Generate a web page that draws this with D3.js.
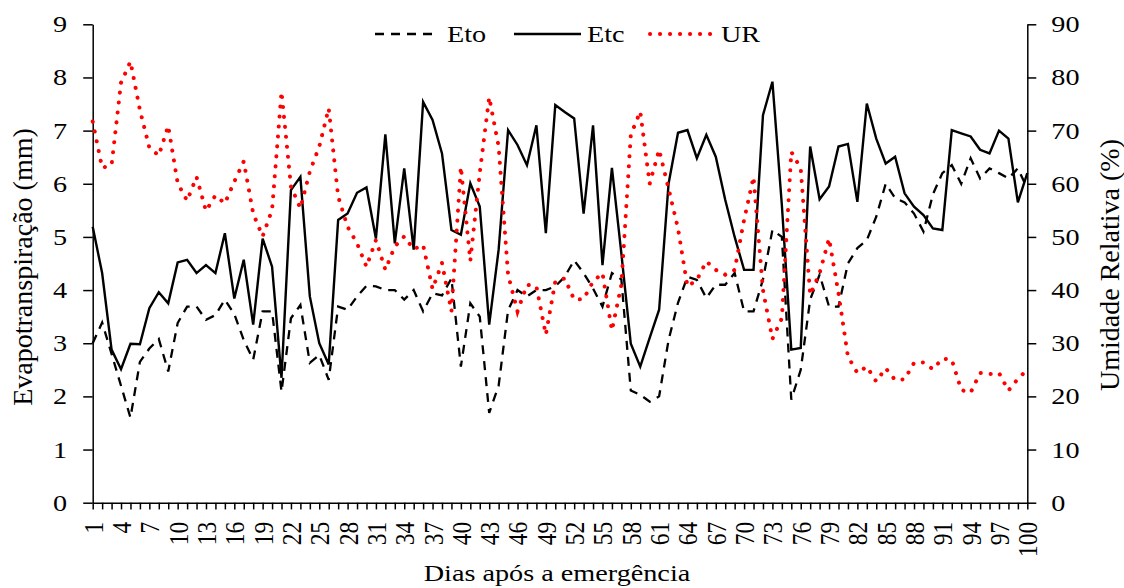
<!DOCTYPE html>
<html>
<head>
<meta charset="utf-8">
<script src="https://cdn.jsdelivr.net/npm/d3@7"></script>
<style>
    body { margin: 0; background: #fff; }
    svg text { font-family: "Liberation Serif", "Times New Roman", serif; fill: #000; }
</style>
</head>
<body>
<script>

// days after emergence
var days = d3.range(1, 101);

// reference evapotranspiration (mm)
var eto = [3.0, 3.39, 2.8, 2.2, 1.6, 2.65, 2.9, 3.08, 2.47, 3.38,
    3.69, 3.69, 3.44, 3.53, 3.82, 3.55, 3.06, 2.69, 3.6, 3.6,
    2.09, 3.47, 3.72, 2.63, 2.78, 2.31, 3.69, 3.63, 3.88, 4.08,
    4.07, 4.0, 4.0, 3.82, 4.0, 3.6, 3.94, 3.9, 4.22, 2.56,
    3.75, 3.5, 1.69, 2.2, 3.62, 4.0, 3.88, 4.0, 4.0, 4.07,
    4.25, 4.56, 4.32, 4.03, 3.69, 4.32, 4.2, 2.11, 2.03, 1.9,
    2.0, 3.06, 3.76, 4.25, 4.19, 3.85, 4.1, 4.1, 4.32, 3.6,
    3.6, 4.2, 5.13, 5.0, 1.94, 2.5, 3.82, 4.29, 3.69, 3.69,
    4.5, 4.79, 4.94, 5.38, 6.0, 5.73, 5.65, 5.44, 5.1, 5.8,
    6.2, 6.35, 6.0, 6.48, 6.1, 6.29, 6.2, 6.1, 6.29, 5.91];

// crop evapotranspiration (mm)
var etc = [5.19, 4.32, 2.88, 2.51, 2.99, 2.98, 3.66, 3.96, 3.75, 4.52,
    4.57, 4.32, 4.47, 4.32, 5.07, 3.84, 4.57, 3.35, 4.97, 4.44,
    2.35, 5.88, 6.13, 3.88, 3.0, 2.6, 5.32, 5.44, 5.83, 5.93,
    4.97, 6.93, 4.88, 6.29, 4.76, 7.54, 7.2, 6.57, 5.13, 5.04,
    6.01, 5.57, 3.35, 4.76, 7.01, 6.73, 6.35, 7.1, 5.07, 7.48,
    7.35, 7.23, 5.44, 7.1, 4.47, 6.3, 4.69, 2.99, 2.56, 3.1,
    3.63, 6.0, 6.96, 7.01, 6.48, 6.92, 6.51, 5.7, 5.0, 4.38,
    4.38, 7.29, 7.92, 5.6, 2.88, 2.91, 6.7, 5.71, 5.95, 6.7,
    6.75, 5.66, 7.51, 6.85, 6.38, 6.51, 5.82, 5.57, 5.41, 5.16,
    5.13, 7.01, 6.95, 6.89, 6.64, 6.57, 7.0, 6.85, 5.65, 6.2];

// relative humidity (%)
var ur = [71.7, 63.0, 63.5, 79.0, 83.0, 73.9, 66.8, 65.3, 70.9, 60.1,
    56.8, 61.3, 54.9, 57.8, 56.3, 60.4, 64.2, 54.4, 50.1, 55.1,
    77.3, 59.5, 55.4, 62.3, 67.0, 74.2, 57.6, 51.9, 48.8, 44.4,
    49.4, 43.8, 48.2, 50.1, 47.7, 48.5, 40.2, 45.1, 36.0, 63.2,
    45.5, 62.0, 76.3, 67.0, 42.9, 36.0, 41.0, 40.7, 31.6, 41.6,
    42.2, 38.2, 38.3, 41.6, 43.2, 32.4, 41.0, 69.2, 73.6, 60.0,
    66.4, 59.1, 51.6, 40.7, 41.9, 45.4, 43.8, 42.9, 43.8, 53.2,
    61.3, 40.0, 30.8, 34.7, 66.0, 62.9, 39.1, 43.2, 49.7, 39.4,
    27.5, 24.4, 25.6, 22.8, 25.3, 23.1, 23.2, 26.3, 26.4, 25.1,
    27.1, 26.9, 21.2, 20.7, 24.4, 24.2, 24.4, 21.1, 23.3, 25.0];

var leftTicks = d3.range(0, 10);
var rightTicks = d3.range(0, 100, 10);
var seriesNames = ["Eto", "Etc", "UR"];

var xTitle = "Dias após a emergência";
var yLeftTitle = "Evapotranspiração (mm)";
var yRightTitle = "Umidade Relativa (%)";

window.onload = function() {
    drawChart();
};

// the source picture is a bit wider than tall, so horizontal text gets stretched
function stretch(selection, k) {
    selection.each(function() {
        var w = this.getComputedTextLength();
        d3.select(this)
            .attr("textLength", w * k)
            .attr("lengthAdjust", "spacingAndGlyphs");
    });
}

function drawChart() {

    var totalWidth = 1124,
        totalHeight = 588;

    var margin = {top: 24.3, right: 96.7, bottom: 85.3, left: 92.7},
        width = totalWidth - margin.left - margin.right,
        height = totalHeight - margin.top - margin.bottom;

    var fontSize = 23.5;
    var squeeze = 1.2;

    var svg = d3.select("body")
        .append("svg")
        .attr("width", totalWidth)
        .attr("height", totalHeight);

    var chart = svg.append("g")
        .attr("transform", "translate(" + margin.left + "," + margin.top + ")");

    var x = d3.scaleLinear()
        .domain([1, 100])
        .range([0, width]);

    var yLeft = d3.scaleLinear()
        .domain([0, 9])
        .range([height, 0]);

    var yRight = d3.scaleLinear()
        .domain([0, 90])
        .range([height, 0]);

    // x axis, a tick each day and a label every third day
    var xAxis = d3.axisBottom(x)
        .tickValues(days)
        .tickSize(6.7)
        .tickSizeOuter(0)
        .tickFormat(function(d) { return (d - 1) % 3 === 0 ? d : ""; });

    var gx = chart.append("g")
        .attr("class", "x axis")
        .attr("transform", "translate(0," + height + ")")
        .call(xAxis);

    gx.selectAll("text")
        .attr("x", 0)
        .attr("y", 0)
        .attr("dy", "0.35em")
        .style("text-anchor", "end")
        .attr("transform", "translate(0,19) rotate(-90) scale(1,1.15)");

    var yAxisLeft = d3.axisLeft(yLeft)
        .tickValues(leftTicks)
        .tickSize(9.5)
        .tickSizeOuter(0)
        .tickPadding(16);

    var gyl = chart.append("g")
        .attr("class", "y axis")
        .call(yAxisLeft);

    var yAxisRight = d3.axisRight(yRight)
        .tickValues(rightTicks)
        .tickSize(9)
        .tickSizeOuter(0)
        .tickPadding(15);

    var gyr = chart.append("g")
        .attr("class", "y axis")
        .attr("transform", "translate(" + width + ",0)")
        .call(yAxisRight);

    // make all axes look alike
    chart.selectAll(".axis")
        .attr("font-family", null)
        .attr("font-size", null);
    chart.selectAll(".axis path, .axis line")
        .attr("stroke", "#000")
        .attr("stroke-width", 1.5);
    chart.selectAll(".axis text")
        .style("font-size", fontSize + "px");

    stretch(gyl.selectAll("text"), squeeze);
    stretch(gyr.selectAll("text"), squeeze);

    // the three series
    var lineLeft = d3.line()
        .x(function(d, i) { return x(days[i]); })
        .y(function(d) { return yLeft(d); });

    var lineRight = d3.line()
        .x(function(d, i) { return x(days[i]); })
        .y(function(d) { return yRight(d); });

    var styles = {
        "Eto": {color: "#000", width: 2.3, dash: "9,7", cap: "butt"},
        "Etc": {color: "#000", width: 2.4, dash: null, cap: "butt"},
        "UR": {color: "#ff0000", width: 4, dash: "0.1,9.9", cap: "round"}
    };

    chart.append("path")
        .datum(eto)
        .attr("class", "line eto")
        .attr("fill", "none")
        .attr("stroke", styles.Eto.color)
        .attr("stroke-width", styles.Eto.width)
        .attr("stroke-dasharray", styles.Eto.dash)
        .attr("d", lineLeft);

    chart.append("path")
        .datum(etc)
        .attr("class", "line etc")
        .attr("fill", "none")
        .attr("stroke", styles.Etc.color)
        .attr("stroke-width", styles.Etc.width)
        .attr("stroke-linejoin", "miter")
        .attr("d", lineLeft);

    chart.append("path")
        .datum(ur)
        .attr("class", "line ur")
        .attr("fill", "none")
        .attr("stroke", styles.UR.color)
        .attr("stroke-width", styles.UR.width)
        .attr("stroke-dasharray", styles.UR.dash)
        .attr("stroke-linecap", "round")
        .attr("d", lineRight);

    // axis titles
    var bottomTitle = svg.append("text")
        .attr("x", 557)
        .attr("y", 581)
        .attr("text-anchor", "middle")
        .style("font-size", fontSize + "px")
        .text(xTitle);
    stretch(bottomTitle, squeeze);

    svg.append("text")
        .attr("transform", "translate(32,267) rotate(-90)")
        .attr("text-anchor", "middle")
        .style("font-size", "28px")
        .text(yLeftTitle);

    svg.append("text")
        .attr("transform", "translate(1119,265) rotate(-90)")
        .attr("text-anchor", "middle")
        .style("font-size", "28px")
        .text(yRightTitle);

    // legend on top, a short sample line and the name
    var legendPos = [
        {x1: 375, x2: 437, tx: 447},
        {x1: 514, x2: 581, tx: 587},
        {x1: 650, x2: 712, tx: 721}
    ];

    var legend = svg.selectAll(".legend")
        .data(seriesNames)
        .enter()
        .append("g")
        .attr("class", "legend");

    legend.append("line")
        .attr("x1", function(d, i) { return legendPos[i].x1; })
        .attr("x2", function(d, i) { return legendPos[i].x2; })
        .attr("y1", 34)
        .attr("y2", 34)
        .attr("stroke", function(d) { return styles[d].color; })
        .attr("stroke-width", function(d) { return styles[d].width; })
        .attr("stroke-dasharray", function(d) { return styles[d].dash; })
        .attr("stroke-linecap", function(d) { return styles[d].cap; });

    var legendText = legend.append("text")
        .attr("x", function(d, i) { return legendPos[i].tx; })
        .attr("y", 42)
        .style("font-size", fontSize + "px")
        .text(function(d) { return d; });
    stretch(legendText, squeeze);
}
</script>
</body>
</html>
